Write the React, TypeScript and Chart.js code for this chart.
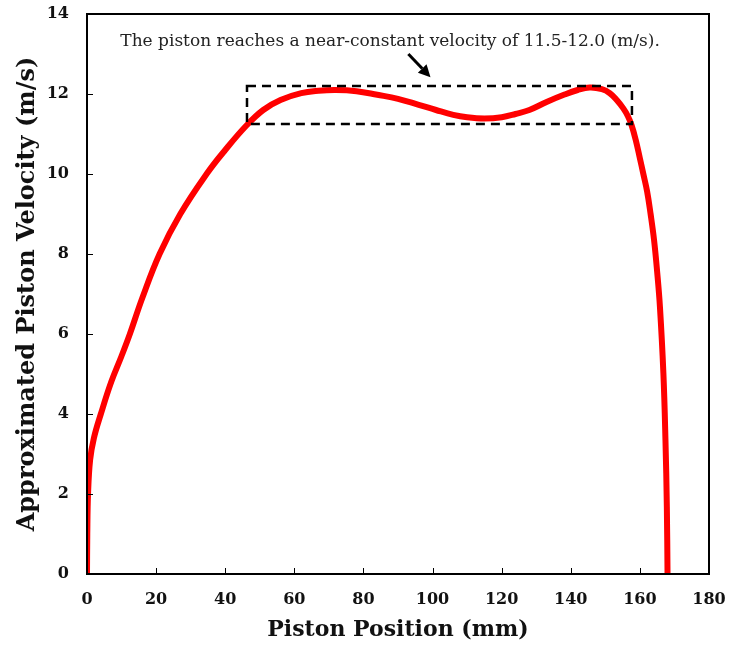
import React, { useEffect, useRef } from "react";
import { Chart, registerables } from "chart.js";

Chart.register(...registerables);

// Piston position (mm)
const positions: number[] = [
  0, 0.08, 0.3, 0.9, 2, 4, 7, 10, 12.4, 16, 21, 27, 34.6, 40, 46, 51, 56, 62, 67, 72,
  78, 84, 90, 96, 101, 106, 110, 115, 120, 124, 128, 133, 138, 142, 145.5, 149, 151.3,
  153.3, 155.2, 156.5, 157.6, 158.8, 160, 161, 162.1, 163.1, 164.1, 165, 165.8, 166.8,
  167.4, 167.8, 168,
];
// Approximated piston velocity (m/s)
const velocities: number[] = [
  0, 1.0, 2.0, 2.85, 3.4, 4.0, 4.8, 5.45, 6.0, 6.9, 8.0, 9.0, 10.0, 10.6, 11.2, 11.6,
  11.85, 12.02, 12.08, 12.1, 12.07, 11.98, 11.88, 11.73, 11.6, 11.48, 11.42, 11.39,
  11.42, 11.5, 11.6, 11.8, 11.98, 12.1, 12.16, 12.12, 12.02, 11.85, 11.64, 11.45, 11.22,
  10.85, 10.39, 10.0, 9.56, 9.0, 8.35, 7.55, 6.68, 5.02, 3.35, 1.68, 0,
];

const xTicks: number[] = [0, 20, 40, 60, 80, 100, 120, 140, 160, 180];
const yTicks: number[] = [0, 2, 4, 6, 8, 10, 12, 14];

const annotationText = "The piston reaches a near-constant velocity of 11.5-12.0 (m/s).";
// annotation geometry in data units
const boxX: number[] = [46.3, 157.7];
const boxY: number[] = [11.25, 12.2];
const arrowFrom: number[] = [93.0, 13.0];
const arrowTo: number[] = [99.4, 12.42];
const textAt: number[] = [87.7, 13.3];

const SERIF = "'DejaVu Serif', 'Liberation Serif', serif";

const decorPlugin = {
  id: "decor",
  afterDatasetsDraw(chart: any) {
    const { ctx, chartArea, scales } = chart;
    const xs = scales.x;
    const ys = scales.y;
    ctx.save();
    // frame
    ctx.strokeStyle = "#000";
    ctx.lineWidth = 2;
    ctx.strokeRect(chartArea.left, chartArea.top, chartArea.right - chartArea.left, chartArea.bottom - chartArea.top);
    // inward ticks
    ctx.lineWidth = 1;
    xTicks.forEach((v) => {
      const px = Math.round(xs.getPixelForValue(v)) + 0.5;
      ctx.beginPath();
      ctx.moveTo(px, chartArea.bottom);
      ctx.lineTo(px, chartArea.bottom - 6);
      ctx.stroke();
    });
    yTicks.forEach((v) => {
      const py = Math.round(ys.getPixelForValue(v)) + 0.5;
      ctx.beginPath();
      ctx.moveTo(chartArea.left, py);
      ctx.lineTo(chartArea.left + 6, py);
      ctx.stroke();
    });
    // dashed box
    const x0 = xs.getPixelForValue(boxX[0]);
    const x1 = xs.getPixelForValue(boxX[1]);
    const y0 = ys.getPixelForValue(boxY[1]);
    const y1 = ys.getPixelForValue(boxY[0]);
    ctx.setLineDash([9, 6]);
    ctx.lineWidth = 2.5;
    ctx.strokeRect(x0, y0, x1 - x0, y1 - y0);
    ctx.setLineDash([]);
    // arrow
    const ax0 = xs.getPixelForValue(arrowFrom[0]);
    const ay0 = ys.getPixelForValue(arrowFrom[1]);
    const ax1 = xs.getPixelForValue(arrowTo[0]);
    const ay1 = ys.getPixelForValue(arrowTo[1]);
    const ang = Math.atan2(ay1 - ay0, ax1 - ax0);
    const head = 12;
    const bx = ax1 - head * Math.cos(ang);
    const by = ay1 - head * Math.sin(ang);
    ctx.lineWidth = 3;
    ctx.beginPath();
    ctx.moveTo(ax0, ay0);
    ctx.lineTo(bx, by);
    ctx.stroke();
    ctx.fillStyle = "#000";
    ctx.beginPath();
    ctx.moveTo(ax1, ay1);
    ctx.lineTo(bx + 6 * Math.sin(ang), by - 6 * Math.cos(ang));
    ctx.lineTo(bx - 6 * Math.sin(ang), by + 6 * Math.cos(ang));
    ctx.closePath();
    ctx.fill();
    // text
    ctx.font = `17px ${SERIF}`;
    ctx.textAlign = "center";
    ctx.textBaseline = "middle";
    ctx.fillStyle = "#222";
    ctx.fillText(annotationText, xs.getPixelForValue(textAt[0]), ys.getPixelForValue(textAt[1]));
    ctx.restore();
  },
};

export default function App() {
  const ref = useRef<HTMLCanvasElement | null>(null);
  useEffect(() => {
    if (!ref.current) return;
    const data = positions.map((x, i) => ({ x, y: velocities[i] }));
    const chart = new Chart(ref.current, {
      type: "line",
      data: {
        datasets: [
          {
            label: "Velocity",
            data,
            borderColor: "#ff0000",
            borderWidth: 6,
            pointRadius: 0,
            fill: false,
            tension: 0.4,
          },
        ],
      },
      options: {
        responsive: false,
        animation: false,
        layout: { padding: { left: 0, top: 14, right: 20, bottom: 0 } },
        plugins: { legend: { display: false }, tooltip: { enabled: false } },
        scales: {
          x: {
            type: "linear",
            min: 0,
            max: 180,
            afterFit: (s: any) => {
              s.height = 72;
              s.paddingLeft = 0;
              s.paddingRight = 0;
            },
            afterBuildTicks: (s: any) => {
              s.ticks = xTicks.map((v) => ({ value: v }));
            },
            grid: { display: false, drawTicks: false },
            border: { display: false },
            ticks: {
              padding: 16,
              color: "#111",
              font: { family: SERIF, size: 16, weight: "bold" },
            },
            title: {
              display: true,
              text: "Piston Position (mm)",
              color: "#111",
              font: { family: SERIF, size: 22, weight: "bold" },
              padding: { top: 0, bottom: 3 },
            },
          },
          y: {
            type: "linear",
            min: 0,
            max: 14,
            afterFit: (s: any) => {
              s.width = 87;
              s.paddingTop = 0;
              s.paddingBottom = 0;
            },
            afterBuildTicks: (s: any) => {
              s.ticks = yTicks.map((v) => ({ value: v }));
            },
            grid: { display: false, drawTicks: false },
            border: { display: false },
            ticks: {
              padding: 18,
              color: "#111",
              font: { family: SERIF, size: 16, weight: "bold" },
            },
            title: {
              display: true,
              text: "Approximated Piston Velocity (m/s)",
              color: "#111",
              font: { family: SERIF, size: 24, weight: "bold" },
              padding: { top: 13, bottom: 0 },
            },
          },
        },
      },
      plugins: [decorPlugin],
    });
    return () => chart.destroy();
  }, []);
  return (
    <div style={{ position: "absolute", left: 0, top: 0, width: 729, height: 646, background: "#fff" }}>
      <canvas ref={ref} width={729} height={646} />
    </div>
  );
}
